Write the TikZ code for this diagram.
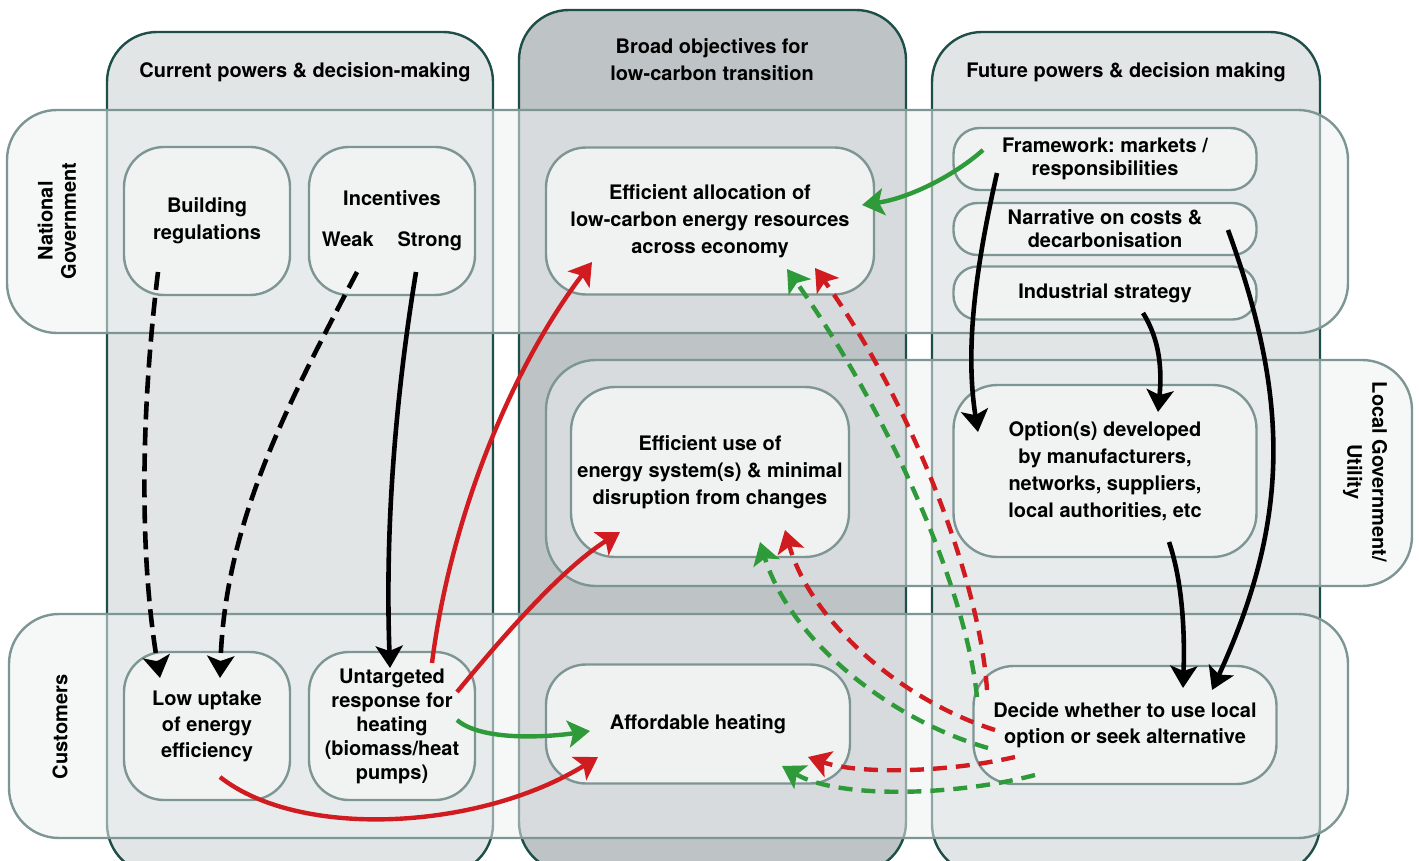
\documentclass[tikz,border=0pt]{standalone}
\usepackage{fontspec}
\setmainfont{TeX Gyre Heros}
\usepackage{xcolor}
\usetikzlibrary{arrows.meta,calc}

\definecolor{colline}{RGB}{30,78,72}
\definecolor{colfill}{RGB}{226,229,230}
\definecolor{colfilldark}{RGB}{190,195,197}
\definecolor{rowline}{RGB}{125,150,148}
\definecolor{rowfill}{RGB}{238,240,241}
\definecolor{boxfill}{RGB}{243,244,244}
\definecolor{arrred}{RGB}{208,28,32}
\definecolor{arrgreen}{RGB}{46,154,58}

\frenchspacing

\begin{document}
\begin{tikzpicture}[
  x=0.5pt,
  y=-0.5pt,
  >={Stealth[length=11pt,width=13.5pt,inset=2.5pt]},
  every node/.style={font=\bfseries\fontsize{10}{13.5}\selectfont,align=center},
  column/.style={draw=colline,line width=1.2pt,fill=colfill,rounded corners=25pt},
  band/.style={draw=rowline,line width=1.2pt,fill=rowfill,fill opacity=0.55,rounded corners=25pt},
  stage/.style={
    draw=rowline,
    line width=1.2pt,
    fill=boxfill,
    fill opacity=0.9,
    text opacity=1,
    rounded corners=20pt,
    inner sep=0pt
  },
  tight/.style={font=\bfseries\fontsize{10}{11.6}\selectfont},
  flow/.style={->,line width=2.3pt,draw=black},
  hint/.style={flow,dash pattern=on 9pt off 4pt},
  gain/.style={->,line width=2.2pt,draw=arrgreen},
  loss/.style={->,line width=2.2pt,draw=arrred},
  gainback/.style={gain,dash pattern=on 7pt off 4.5pt},
  lossback/.style={loss,dash pattern=on 7pt off 4.5pt}
]

\useasboundingbox (0,0) rectangle (1419,861);
\clip (0,0) rectangle (1419,861);

% Three columns.
\draw[column] (107,32) rectangle (493,874);
\draw[column,fill=colfilldark] (519,10) rectangle (906,872);
\draw[column] (932,32) rectangle (1320,874);

% Three bands across them.
\draw[band] (7,110) rectangle (1348,333);
\draw[band] (546,360) rectangle (1412,586);
\draw[band] (9,614) rectangle (1348,838);

% Headings.
\node (curhead) at (305,72) {Current powers \& decision-making};
\node (objhead) at (712,60) {Broad objectives for\\low-carbon transition};
\node (futhead) at (1126,72) {Future powers \& decision making};
\node[rotate=90,tight] (natlabel) at (57,221) {National\\Government};
\node[rotate=-90,font=\bfseries\fontsize{10}{12.5}\selectfont] (loclabel) at (1365,472) {Local Government/\\Utility};
\node[rotate=90] (custlabel) at (60,727) {Customers};

% Boxes.
\node[stage,minimum width=83pt,minimum height=74pt] (breg) at (207,221) {Building\\regulations};
\node[stage,minimum width=83pt,minimum height=74pt] (incent) at (392,221)
  {Incentives\\[7pt]Weak\hspace{12pt}Strong};
\node[stage,minimum width=164pt,minimum height=73.5pt] (ealloc) at (710,221)
  {Efficient allocation of\\low-carbon energy resources\\across economy};
\node[stage,tight,minimum width=151.5pt,minimum height=31pt,rounded corners=13pt] (frame) at (1105,159)
  {Framework: markets /\\responsibilities};
\node[stage,tight,minimum width=151.5pt,minimum height=26pt,rounded corners=12pt] (narr) at (1105,229)
  {Narrative on costs \&\\decarbonisation};
\node[stage,minimum width=151.5pt,minimum height=26.5pt,rounded corners=12pt] (indus) at (1105,293)
  {Industrial strategy};
\node[stage,minimum width=139pt,minimum height=85pt,rounded corners=22pt] (euse) at (710,472)
  {Efficient use of\\energy system(s) \& minimal\\disruption from changes};
\node[stage,minimum width=151.5pt,minimum height=86pt,rounded corners=22pt] (optdev) at (1105,471)
  {Option(s) developed\\by manufacturers,\\networks, suppliers,\\local authorities, etc};
\node[stage,font=\bfseries\fontsize{10}{13}\selectfont,minimum width=83pt,minimum height=74pt] (lowup) at (207,726)
  {Low uptake\\of energy\\efficiency};
\node[stage,font=\bfseries\fontsize{10}{12}\selectfont,minimum width=83pt,minimum height=74pt] (untarg) at (392,726)
  {Untargeted\\response for\\heating\\(biomass/heat\\pumps)};
\node[stage,minimum width=152pt,minimum height=59.5pt] (afford) at (698,724) {Affordable heating};
\node[stage,font=\bfseries\fontsize{10}{13}\selectfont,minimum width=151.5pt,minimum height=59pt] (decide) at (1125,725)
  {Decide whether to use local\\option or seek alternative};

% Current powers.
\draw[hint] ($(breg)+(-49,51)$) .. controls (140,420) and (140,560) .. ($(lowup)+(-47,-48)$);
\draw[hint] ($(incent)+(-35,51)$) .. controls (290,400) and (225,520) .. ($(lowup)+(13,-48)$);
\draw[flow] ($(incent)+(24,51)$) .. controls (395,400) and (385,530) .. ($(untarg)+(-2,-58)$);

% Future powers.
\draw[flow] ($(frame)+(-108,14)$) .. controls (975,270) and (965,350) .. ($(optdev)+(-127,-39)$);
\draw[flow] ($(indus)+(38,20)$) .. controls (1160,340) and (1162,370) .. ($(optdev)+(53,-59)$);
\draw[flow] ($(narr)+(123,1)$) .. controls (1290,400) and (1290,520) .. ($(decide)+(87,-35)$);
\draw[flow] ($(optdev)+(64,71)$) .. controls (1182,580) and (1185,630) .. ($(decide)+(58,-37)$);
\draw[gain] ($(frame)+(-122,-9)$) .. controls (955,175) and (910,198) .. ($(ealloc)+(152,-16)$);

% Customer responses.
\draw[gain] ($(untarg)+(65,-6)$) .. controls (480,740) and (540,738) .. ($(afford)+(-108,7)$);
\draw[loss] ($(untarg)+(40,-63)$) .. controls (450,520) and (510,370) .. ($(ealloc)+(-118,41)$);
\draw[loss] ($(untarg)+(65,-34)$) .. controls (500,640) and (560,570) .. ($(euse)+(-90,60)$);
\draw[loss] ($(lowup)+(13,51)$) .. controls (300,840) and (480,830) .. ($(afford)+(-100,33)$);

% Local decision fed back.
\draw[gainback] ($(decide)+(-148,-28)$) .. controls (965,580) and (880,400) .. ($(ealloc)+(77,48)$);
\draw[lossback] ($(decide)+(-138,-35)$) .. controls (980,580) and (910,400) .. ($(ealloc)+(105,47)$);
\draw[gainback] ($(decide)+(-137,23)$) .. controls (890,720) and (790,640) .. ($(euse)+(50,70)$);
\draw[lossback] ($(decide)+(-130,5)$) .. controls (900,700) and (810,620) .. ($(euse)+(75,58)$);
\draw[lossback] ($(decide)+(-110,32)$) .. controls (950,772) and (860,775) .. ($(afford)+(110,33)$);
\draw[gainback] ($(decide)+(-90,50)$) .. controls (960,795) and (840,800) .. ($(afford)+(84,42)$);

\end{tikzpicture}
\end{document}
